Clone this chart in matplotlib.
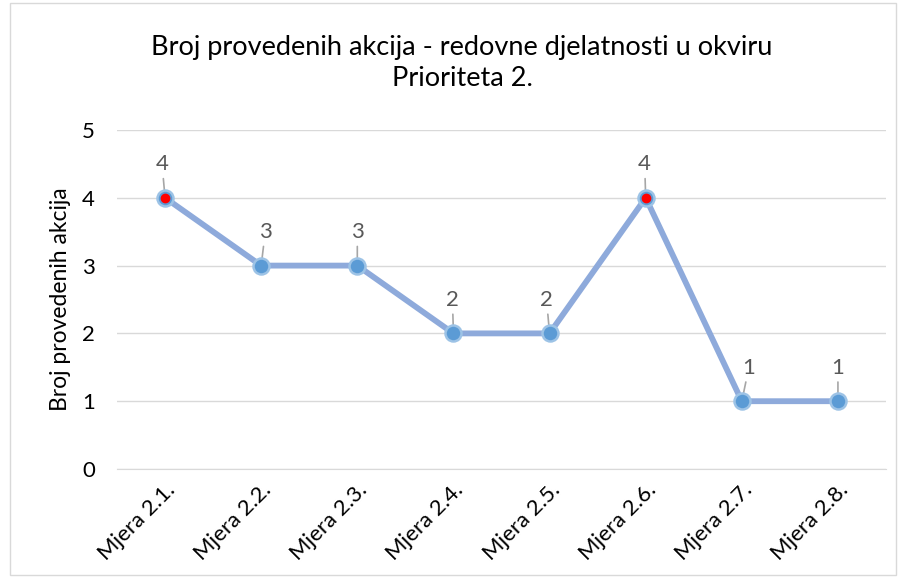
import matplotlib

matplotlib.use("Agg")

import matplotlib.pyplot as plt
from matplotlib.patches import Rectangle

# chart data
categories = ["Mjera 2.1.", "Mjera 2.2.", "Mjera 2.3.", "Mjera 2.4.",
              "Mjera 2.5.", "Mjera 2.6.", "Mjera 2.7.", "Mjera 2.8."]
values = [4, 3, 3, 2, 2, 4, 1, 1]
highlighted = [True, False, False, False, False, True, False, False]
label_dx = [-3, 4, 0, -1, -3, -1, 7, 0]  # pixel nudges of the data labels

title = "Broj provedenih akcija - redovne djelatnosti u okviru\nPrioriteta 2."
y_label = "Broj provedenih akcija"

plt.rcParams["font.family"] = ["Lato", "DejaVu Sans"]

fig = plt.figure(figsize=(9.06, 5.79), dpi=100)
ax = fig.add_axes([117 / 906, 1 - 469 / 579, (886 - 117) / 906, (469 - 130) / 579])

# outer chart frame
fig.patches.append(Rectangle((10 / 906, 4 / 579), 886 / 906, 572 / 579,
                             transform=fig.transFigure, fill=False,
                             edgecolor="#d9d9d9", linewidth=1))

x = list(range(len(categories)))
ax.plot(x, values, color="#8eaadb", linewidth=4.2, solid_capstyle="round",
        zorder=3)
ax.plot(x, values, linestyle="none", marker="o", markersize=11.5,
        markerfacecolor="#5b9bd5", markeredgecolor="#9dc3e6",
        markeredgewidth=1.8, zorder=4)
red_x = [i for i, h in zip(x, highlighted) if h]
red_y = [v for v, h in zip(values, highlighted) if h]
ax.plot(red_x, red_y, linestyle="none", marker="o", markersize=6,
        markerfacecolor="#ff0000", markeredgecolor="#ff0000", zorder=5)

for i, v in enumerate(values):
    ax.annotate(str(v), xy=(i, v), xytext=(label_dx[i] * 0.72, 24),
                textcoords="offset points", ha="center", va="center",
                fontsize=16, color="#595959",
                arrowprops=dict(arrowstyle="-", color="#a6a6a6", lw=1.2,
                                shrinkA=1, shrinkB=0))

ax.set_xlim(-0.5, len(categories) - 0.5)
ax.set_ylim(0, 5)
ax.set_yticks(range(6))
ax.set_xticks(x)
ax.set_xticklabels(categories, rotation=45, ha="right", rotation_mode="anchor")
ax.tick_params(axis="both", length=0, labelsize=16, colors="#000000",
               pad=8)
ax.tick_params(axis="y", pad=16)
ax.grid(axis="y", color="#d9d9d9", linewidth=1)
ax.set_axisbelow(True)
for side in ["top", "right", "left"]:
    ax.spines[side].set_visible(False)
ax.spines["bottom"].set_color("#d9d9d9")

ax.set_ylabel(y_label, fontsize=16.5, labelpad=8)
fig.text(462 / 906, 1 - 63 / 579, title, ha="center", va="center",
         fontsize=19.5, linespacing=1.25)

fig.savefig("out.png", dpi=100)
